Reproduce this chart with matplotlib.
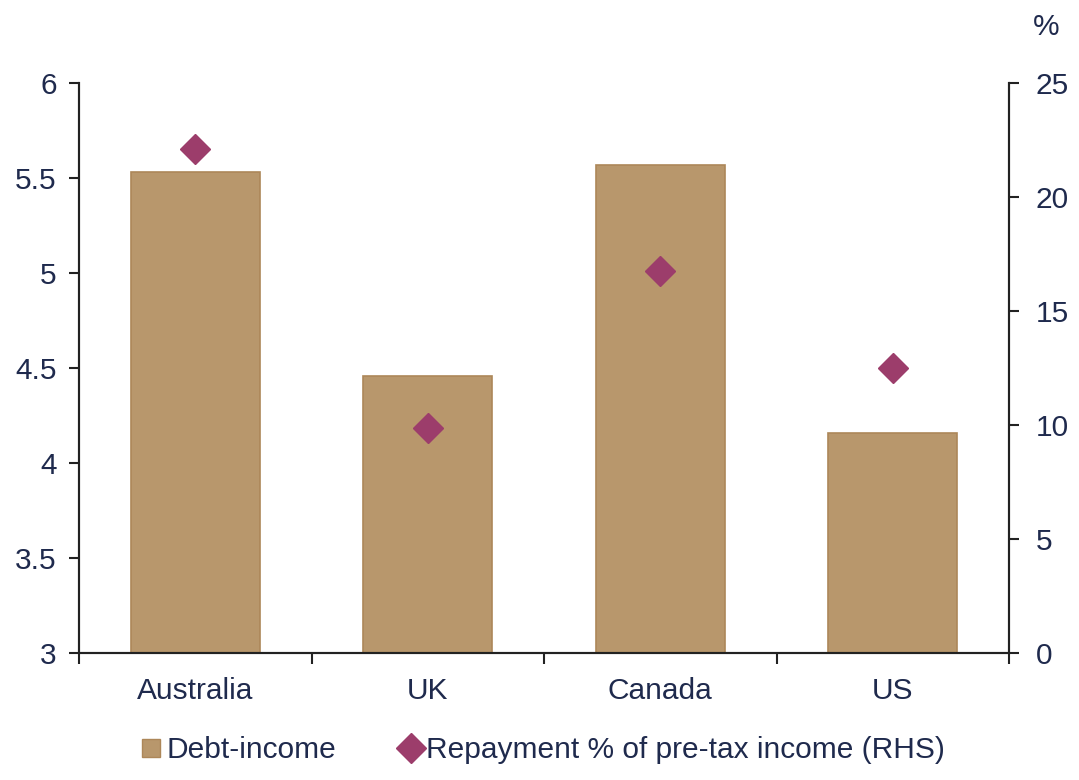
import matplotlib.pyplot as plt
import numpy as np
from matplotlib.lines import Line2D

plt.rcParams['font.family'] = ['Liberation Sans', 'DejaVu Sans']

countries = ['Australia', 'UK', 'Canada', 'US']
debt_income = [5.53, 4.46, 5.57, 4.16]
repayment = [22.1, 9.85, 16.75, 12.5]

bar_color = '#B8976C'
bar_edge = '#AD8759'
dia_color = '#9C3D6B'
text_color = '#1F2A4D'
axis_color = '#222222'

fig = plt.figure(figsize=(10.79, 7.80), dpi=100)
ax = fig.add_axes([0.0732, 0.1628, 0.862, 0.7308])
ax2 = ax.twinx()

x = np.arange(len(countries))
ax.bar(x, np.array(debt_income) - 3, bottom=3, width=0.555,
       color=bar_color, edgecolor=bar_edge, linewidth=1.2, zorder=2)
ax2.plot(x, repayment, linestyle='none', marker='D', markersize=15,
         color=dia_color, zorder=3)

ax.set_xlim(-0.5, len(countries) - 0.5)
ax.set_ylim(3, 6)
ax.set_yticks(np.arange(3, 6.01, 0.5))
ax.set_yticklabels(['3', '3.5', '4', '4.5', '5', '5.5', '6'])
ax2.set_ylim(0, 25)
ax2.set_yticks(np.arange(0, 26, 5))

# category separators as major ticks, names as minor tick labels
ax.set_xticks(np.arange(-0.5, len(countries), 1.0))
ax.set_xticklabels([])
ax.set_xticks(x, minor=True)
ax.set_xticklabels(countries, minor=True)
ax.tick_params(axis='x', which='major', direction='out', length=8, width=1.5, color=axis_color)
ax.tick_params(axis='x', which='minor', length=0, pad=17, labelsize=21.5, labelcolor=text_color)

ax.tick_params(axis='y', direction='out', length=7, width=1.5, color=axis_color,
               labelsize=21.5, labelcolor=text_color, pad=9)
ax2.tick_params(axis='y', direction='out', length=7, width=1.5, color=axis_color,
                labelsize=21.5, labelcolor=text_color, pad=12)

for a in (ax, ax2):
    a.spines['top'].set_visible(False)
    for s in ('left', 'right', 'bottom'):
        a.spines[s].set_color(axis_color)
        a.spines[s].set_linewidth(1.5)

fig.text(0.970, 0.965, '%', fontsize=21.5, color=text_color, ha='center', va='center')

handles = [
    Line2D([], [], linestyle='none', marker='s', markersize=13, color=bar_color,
           markeredgecolor=bar_edge),
    Line2D([], [], linestyle='none', marker='D', markersize=15, color=dia_color),
]
fig.legend(handles, ['Debt-income', 'Repayment % of pre-tax income (RHS)'],
           loc='center', bbox_to_anchor=(0.501, 0.038), ncol=2, frameon=False,
           fontsize=21.5, labelcolor=text_color, handletextpad=0.0, columnspacing=2.0,
           handlelength=1.0)

plt.savefig('out.png', dpi=100)
